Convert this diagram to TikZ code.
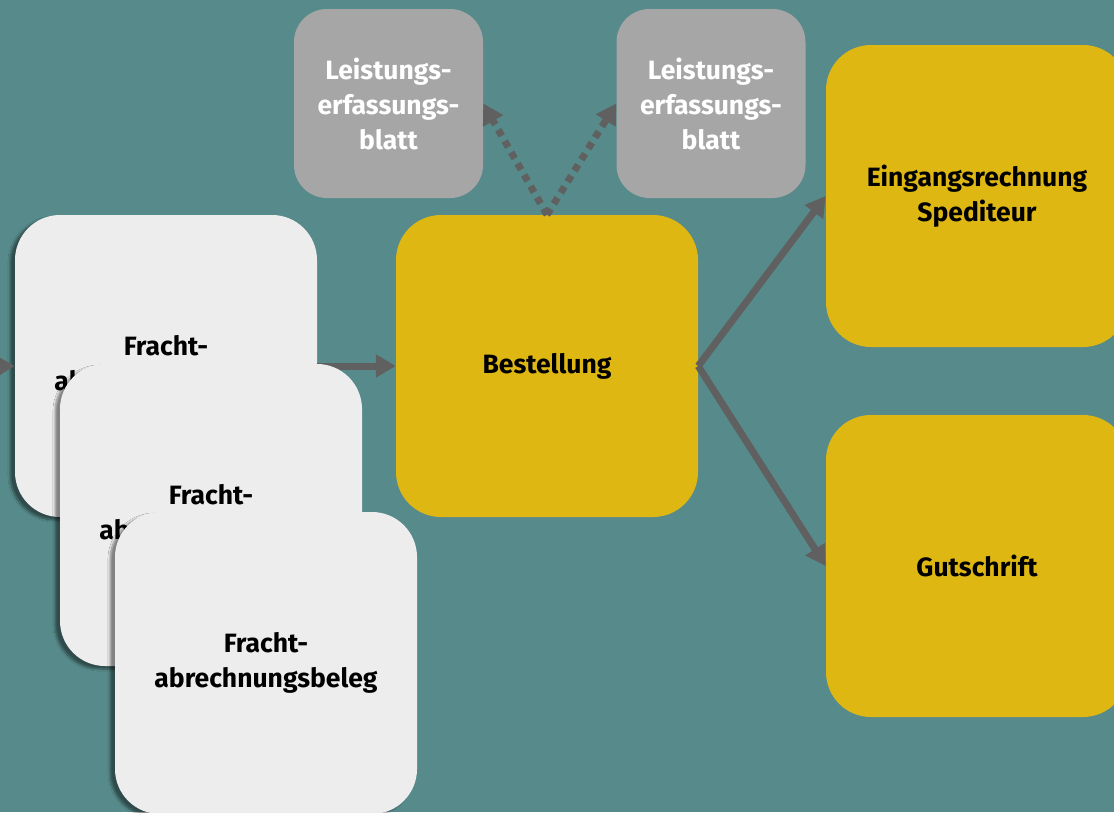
\documentclass[tikz,border=0pt]{standalone}
\usepackage{xcolor}
\usepackage{fontspec}
\setmainfont{Fira Sans}
\usepackage{tikz}
\usetikzlibrary{shapes.geometric, arrows.meta, positioning, calc, shadows.blur}

\definecolor{bgteal}{RGB}{87,138,138}
\definecolor{boxgelb}{RGB}{222,183,19}
\definecolor{boxgrau}{RGB}{166,166,166}
\definecolor{belegweiss}{RGB}{237,237,237}
\definecolor{pfeilgrau}{RGB}{96,96,96}

\tikzset{
    doc/.style={rectangle, rounded corners=45pt, minimum width=302pt, minimum height=302pt,
        inner sep=0pt, align=center, font=\fontsize{26.5}{35}\selectfont\bfseries},
    gelb/.style={doc, fill=boxgelb, text=black},
    beleg/.style={doc, fill=belegweiss, text=black,
        blur shadow={shadow xshift=-5pt, shadow yshift=-3pt, shadow opacity=45, shadow blur steps=6}},
    blatt/.style={doc, fill=boxgrau, text=white, rounded corners=33pt,
        minimum width=189pt, minimum height=189pt},
    pfeil/.style={draw=pfeilgrau, line width=7pt, -{Triangle[length=20pt,width=22pt]}},
    punkt/.style={pfeil, dash pattern=on 7pt off 6pt}
}

\begin{document}
\begin{tikzpicture}[x=1pt, y=-1pt]
    % Hintergrund
    \useasboundingbox (0,0) rectangle (1114,812);
    \clip (0,0) rectangle (1114,812);
    \fill[bgteal] (0,0) rectangle (1114,812);

    % Belege und Bestellung
    \node[beleg] (fb1) at (166,366) {Fracht-\\abrechnungsbeleg};
    \node[gelb] (best) at (547,366) {Bestellung};
    \coordinate (ein) at (-40,367);
    \draw[pfeil] (ein) -- (fb1.west);
    \draw[pfeil] (fb1.east) -- (best.west);
    \node[beleg] (fb2) at (211,515) {Fracht-\\abrechnungsbeleg};
    \node[beleg] (fb3) at (266,663) {Fracht-\\abrechnungsbeleg};

    % Leistungserfassung
    \node[blatt] (lb1) at (388.5,103.5) {Leistungs-\\erfassungs-\\blatt};
    \node[blatt] (lb2) at (711,103.5) {Leistungs-\\erfassungs-\\blatt};

    % Folgebelege
    \node[gelb] (eing) at (977,196) {Eingangsrechnung\\Spediteur};
    \node[gelb] (guts) at (977,566) {Gutschrift};

    \draw[pfeil] (best.east) -- (eing.west);
    \draw[pfeil] (best.east) -- (guts.west);
    \draw[punkt] (best.north) -- (lb1.east);
    \draw[punkt] (best.north) -- (lb2.west);
\end{tikzpicture}
\end{document}
